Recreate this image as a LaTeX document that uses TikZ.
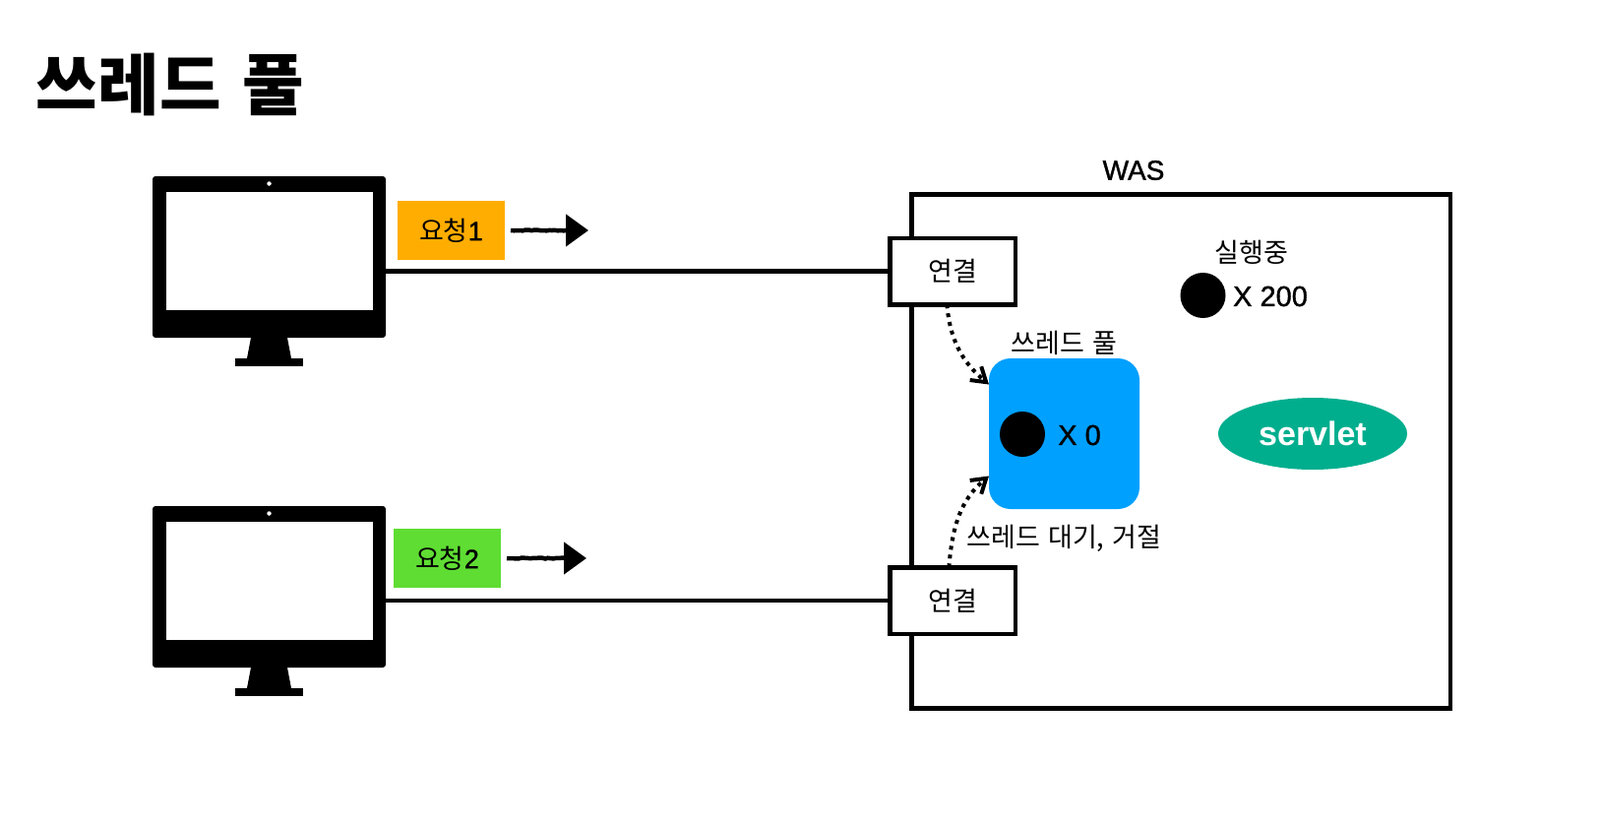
\documentclass[tikz,border=0pt]{standalone}
\usepackage{fontspec}
\setmainfont{Liberation Sans}
\newfontfamily\kr{Noto Sans CJK KR}[WordSpace=1.4]
\newfontfamily\md{Liberation Sans}[FakeBold=1.2]
\usetikzlibrary{positioning, arrows.meta, calc, shapes.geometric, decorations.pathmorphing}
\definecolor{cpool}{RGB}{0,160,255}
\definecolor{cservlet}{RGB}{0,174,142}
\definecolor{creqa}{RGB}{255,173,0}
\definecolor{creqb}{RGB}{95,221,51}
\newcommand{\fs}[1]{\fontsize{#1}{#1}\selectfont}

\begin{document}
\begin{tikzpicture}[x=1pt, y=-1pt, line width=4.5pt, inner sep=0pt, outer sep=0pt, font=\fs{27},
    conn/.style={draw, fill=white, line width=4.5pt, minimum width=127.5pt, minimum height=67.5pt, font=\kr\fs{27}},
    req/.style={minimum width=109pt, minimum height=60pt, font=\fs{27}},
    dot/.style={circle, fill=black, minimum size=46pt},
    lab/.style={font=\kr\fs{27}},
    num/.style={font=\md\fs{29}},
    wait/.style={-{Straight Barb[length=14pt,width=18pt,line width=4pt]}, line width=4pt, dash pattern=on 4pt off 5pt},
    rough/.style={-{Triangle[length=23pt,width=32pt]}, line width=4.5pt, decorate,
      decoration={random steps, segment length=3pt, amplitude=.5pt, post length=22pt}}]

  \useasboundingbox[fill=white] (0,0) rectangle (1626,841);

  \node[font=\kr\bfseries\fs{68}] (title) at (173,86) {쓰레드 풀};

  % monitors
  \foreach \n/\dy in {1/0, 2/335} {
    \begin{scope}[shift={(0,\dy)}]
      \node[fill=black, rounded corners=3pt, minimum width=237pt, minimum height=164pt] (mon\n) at (273.5,261) {};
      \node[fill=white, minimum width=210pt, minimum height=120pt] (screen\n) at (273.5,255) {};
      \node[circle, fill=white, minimum size=4.5pt] (cam\n) at (273.5,186.5) {};
      \fill (255,343) -- (292,343) -- (296,364) -- (251,364) -- cycle;
      \node[fill=black, minimum width=69pt, minimum height=8pt] (base\n) at (273.5,368) {};
    \end{scope}
  }

  % WAS
  \node[draw, minimum width=547.3pt, minimum height=521.6pt] (was) at (1200.3,458.5) {};
  \node[font=\md\fs{28}] (waslab) at (1152,173) {WAS};
  \node[conn] (conn1) at (968.3,275.5) {연결};
  \node[conn] (conn2) at (968.3,610) {연결};

  \node[fill=cpool, rounded corners=22pt, minimum width=153pt, minimum height=153pt] (pool) at (1081.5,440.5) {};
  \node[lab] (poollab) at (1081.5,348) {쓰레드 풀};
  \node[dot] (thr) at (1039,441) {};
  \node[num] (thrnum) at (1097,442) {X 0};
  \node[lab] (waitlab) at (1081.5,547) {쓰레드 대기, 거절};

  \node[lab] (runlab) at (1272,256) {실행중};
  \node[dot] (run) at (1222.5,300) {};
  \node[num] (runnum) at (1291,301) {X 200};

  \node[ellipse, fill=cservlet, minimum width=192pt, minimum height=73pt, text=white, font=\bfseries\fs{34}] (servlet) at (1334,440.5) {servlet};

  % requests
  \node[req, fill=creqa] (req1) at (458.5,234) {{\kr 요청}{\md 1}};
  \node[req, fill=creqb] (req2) at (454.5,567) {{\kr 요청}{\md 2}};
  \coordinate (reqend1) at (598,234);
  \coordinate (reqend2) at (596,567);
  \draw[rough] ([xshift=6pt]req1.east) -- (reqend1);
  \draw[rough] ([xshift=6pt]req2.east) -- (reqend2);

  % connections
  \draw (conn1.west -| mon1.east) -- (conn1.west);
  \draw (conn2.west -| mon2.east) -- (conn2.west);
  \draw[wait] ([xshift=-6pt]conn1.south) to[out=-85, in=140] ([yshift=50pt]pool.west);
  \draw[wait] ([xshift=-4pt]conn2.north) to[out=85, in=-140] ([yshift=-43pt]pool.west);
\end{tikzpicture}
\end{document}
